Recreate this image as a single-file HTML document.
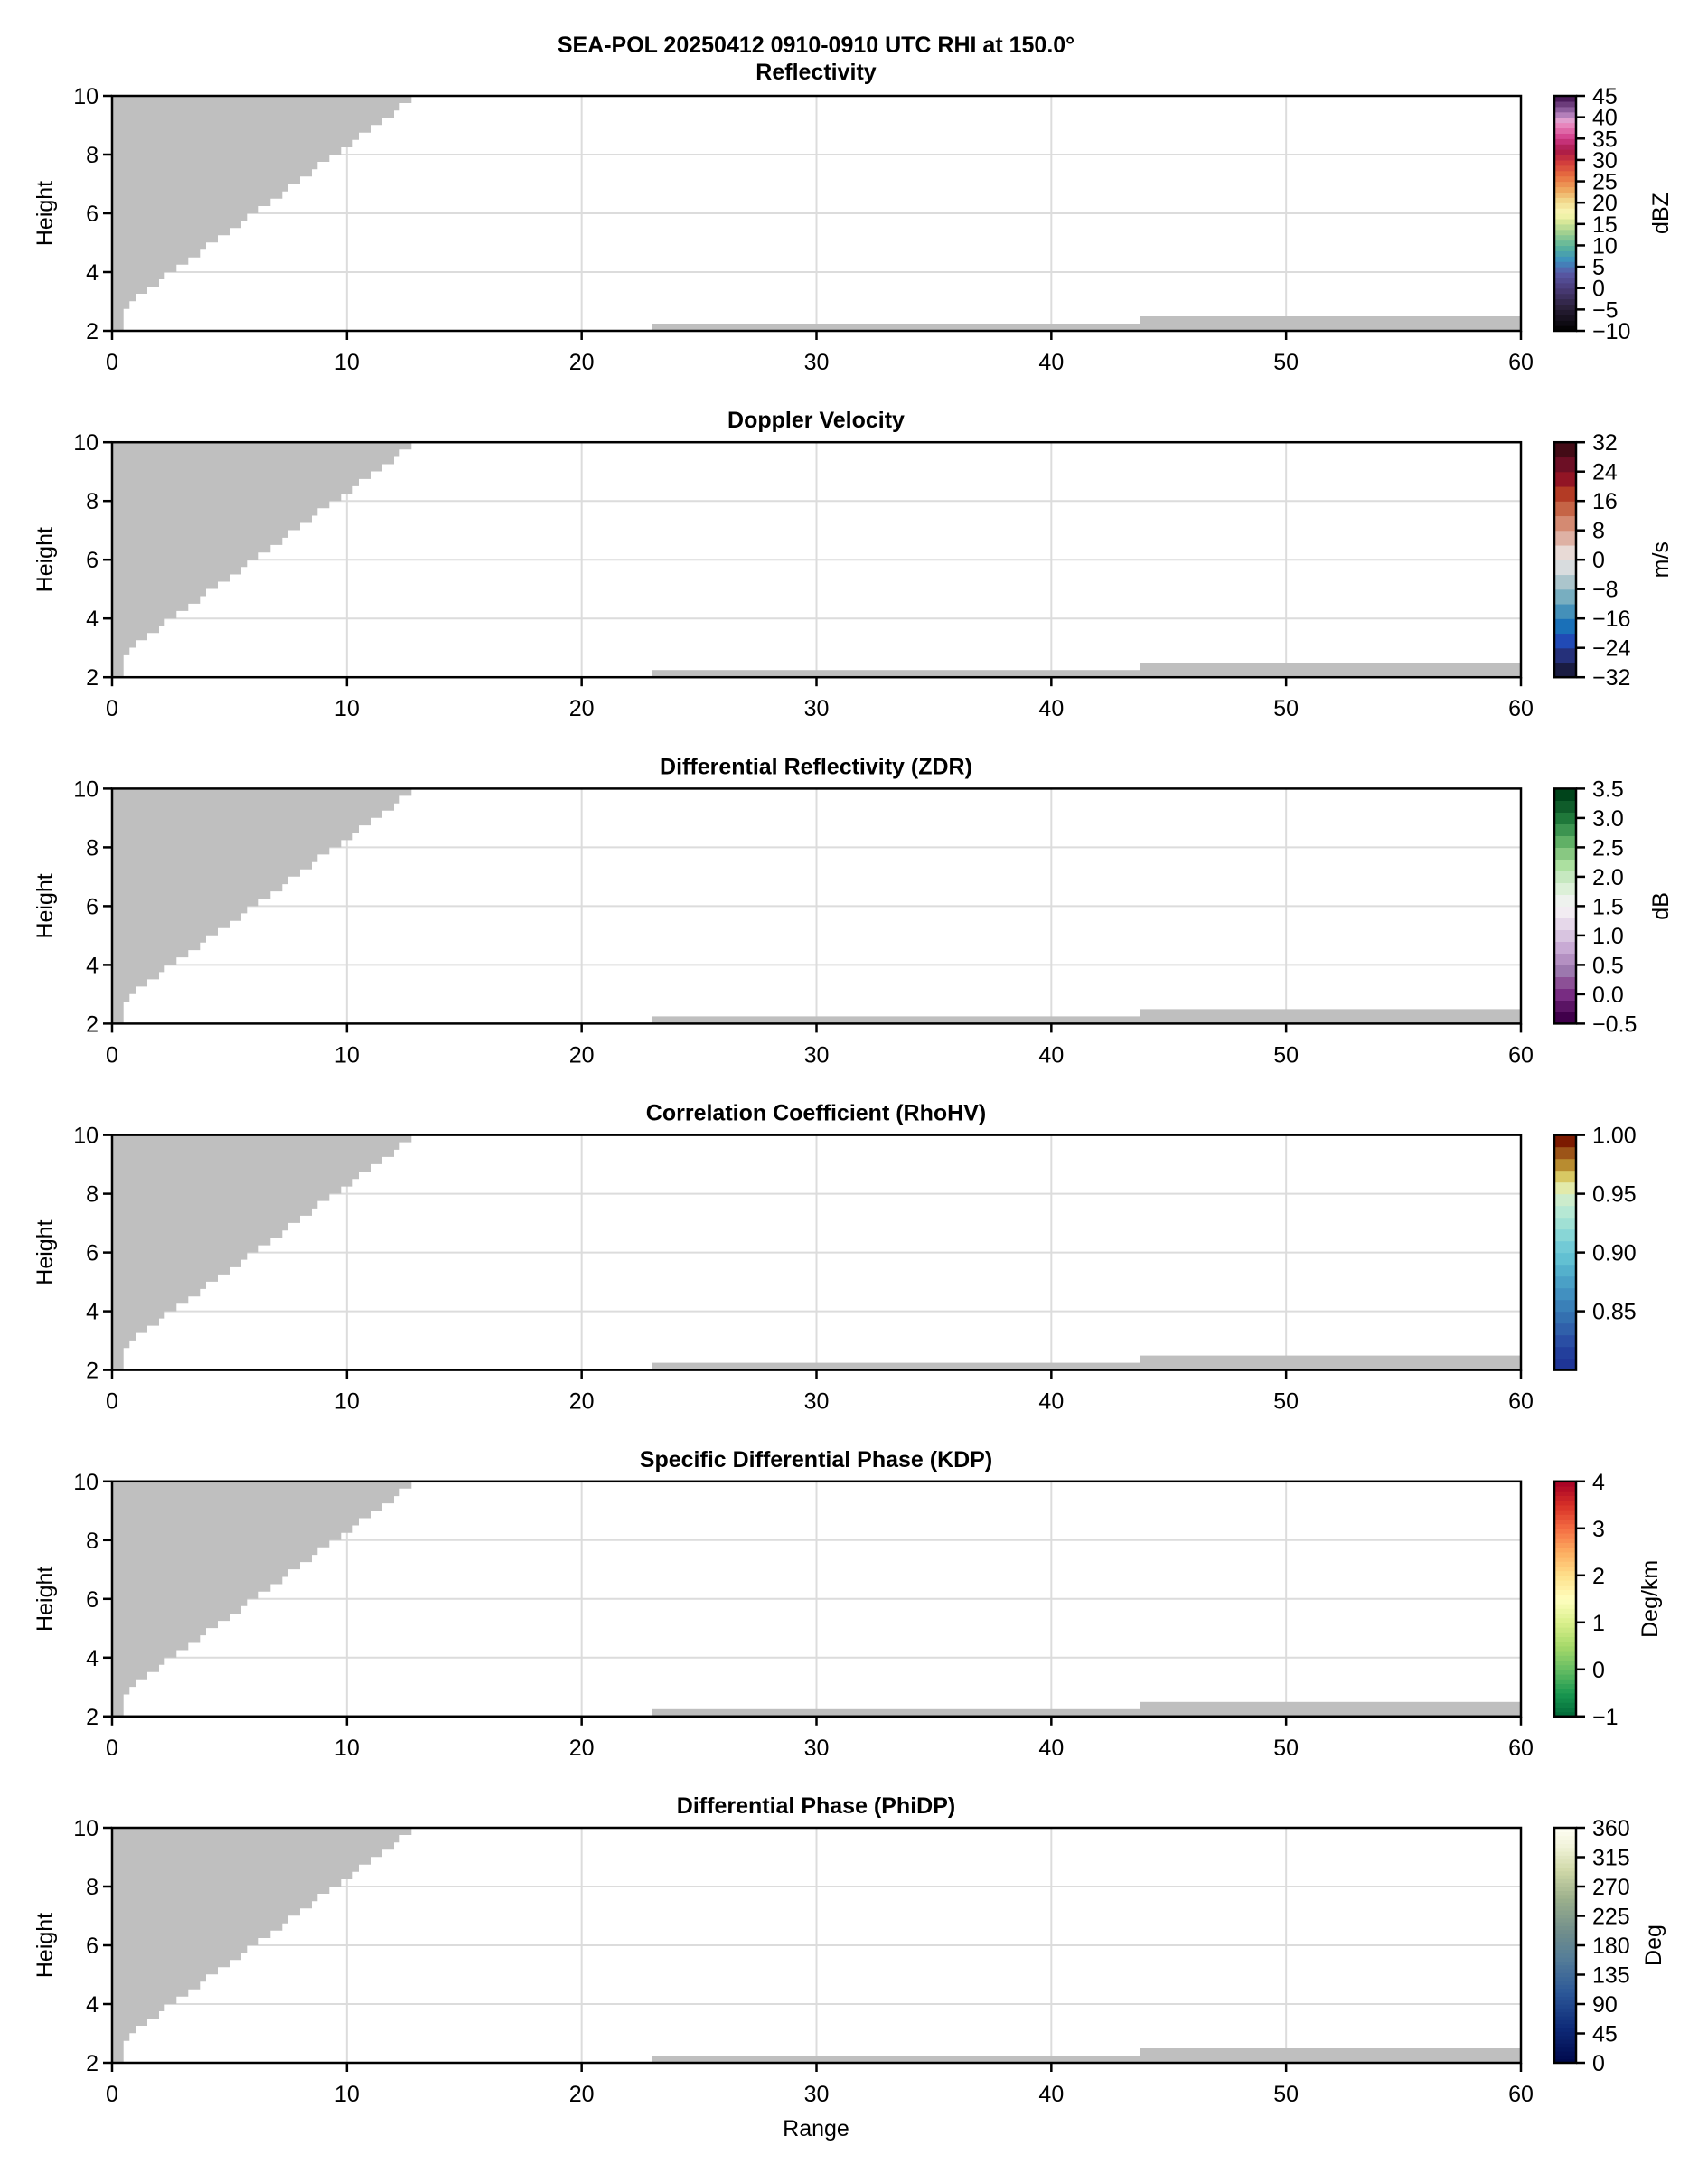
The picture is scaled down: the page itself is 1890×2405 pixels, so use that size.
<!DOCTYPE html>
<html><head><meta charset="utf-8"><style>
html,body{margin:0;padding:0;background:#fff;}
svg text{font-family:"Liberation Sans",sans-serif;fill:#000;}
</style></head><body>
<svg id="s" xmlns="http://www.w3.org/2000/svg" width="1890" height="2400" viewBox="0 0 1890 2400">
<defs>
<path id="tri" d="M0,0 L0,260 H12.7 V235.7 H19.3 V227.3 H26 V219 H39 V211 H52 V203 H58.3 V195 H71.3 V186.7 H84.3 V178.7 H97.3 V170.3 H104 V162.3 H117 V154.3 H130 V146.3 H143 V138 H149.3 V130 H162.3 V122 H175.3 V113.7 H188.3 V105.7 H195 V97.3 H208 V89.3 H221 V81.3 H227.3 V73 H240.3 V65 H253.3 V57 H266.3 V48.7 H273 V40.7 H286 V32.3 H299 V24.3 H312 V16.3 H318.3 V8 H331.3 V0 Z" fill="#bfbfbf"/>
</defs>
<text x="903" y="58" font-size="25" font-weight="bold" text-anchor="middle">SEA-POL 20250412 0910-0910 UTC RHI at 150.0°</text>
<text x="903" y="2363" font-size="25" text-anchor="middle">Range</text>
</svg>
<script>
var s=document.getElementById('s'),NS='http://www.w3.org/2000/svg';
function el(t,a,txt){var e=document.createElementNS(NS,t);for(var k in a)e.setAttribute(k,a[k]);if(txt!=null)e.textContent=txt;s.appendChild(e);return e;}
var L=124,R=1683,W=R-L,H=260,kx=W/60;
var panels=[
{t:"Reflectivity",u:"dBZ",min:-10,max:45,ticks:[-10,-5,0,5,10,15,20,25,30,35,40,45],n:44,
 c:[[0,'#000000'],[0.1,'#2a2038'],[0.18,'#4a3b78'],[0.25,'#5a5aa8'],[0.3,'#3b8fc0'],[0.36,'#5ab49a'],[0.42,'#a0d090'],[0.48,'#e8ee9c'],[0.5,'#f8f8b8'],[0.55,'#f2dc90'],[0.6,'#eeaa60'],[0.66,'#e87040'],[0.72,'#d03a3c'],[0.77,'#a81848'],[0.82,'#d03a88'],[0.87,'#e880b8'],[0.9,'#e0a0d0'],[0.93,'#a070b0'],[1,'#3a0a48']]},
{t:"Doppler Velocity",u:"m/s",min:-32,max:32,ticks:[-32,-24,-16,-8,0,8,16,24,32],
 bins:['#1a1c42','#25307a','#214ab5','#1a70b8','#4490b9','#78aec0','#abc5cc','#d8dcde','#e8dad6','#deb1a4','#d48a72','#c56446','#b33b25','#921525','#6c0f25','#430b16']},
{t:"Differential Reflectivity (ZDR)",u:"dB",min:-0.5,max:3.5,ticks:[-0.5,0,0.5,1,1.5,2,2.5,3,3.5],dec:1,
 bins:['#40004b','#5a1464','#782c82','#8c5096','#9c78ae','#b490c2','#c8aad4','#d8c4e0','#e6d8ea','#f2ecf2','#eef2ee','#dcf0d8','#c6e8c0','#ace0a0','#88c882','#60b066','#3c9450','#1f783a','#0f5c2a','#00441b']},
{t:"Correlation Coefficient (RhoHV)",u:"",min:0.8,max:1.0,ticks:[0.85,0.9,0.95,1.0],dec:2,
 bins:['#1f3596','#233f9c','#2a4ea4','#3060aa','#3470b0','#3a80b8','#4290c0','#4aa0c6','#54b0cc','#62c0d2','#72cad6','#88d6d6','#a0e0d4','#b6e8d4','#cceccc','#e2eaaa','#d8c864','#b88c30','#9c5418','#7c1a00']},
{t:"Specific Differential Phase (KDP)",u:"Deg/km",min:-1,max:4,ticks:[-1,0,1,2,3,4],n:50,
 c:[[0,'#006837'],[0.1,'#1a9850'],[0.2,'#66bd63'],[0.3,'#a6d96a'],[0.4,'#d9ef8b'],[0.5,'#ffffbf'],[0.6,'#fee08b'],[0.7,'#fdae61'],[0.8,'#f46d43'],[0.9,'#d73027'],[1,'#a50026']]},
{t:"Differential Phase (PhiDP)",u:"Deg",min:0,max:360,ticks:[0,45,90,135,180,225,270,315,360],n:60,
 c:[[0,'#00084a'],[0.15,'#0e2a78'],[0.3,'#2c5898'],[0.45,'#567e98'],[0.55,'#6e8c8c'],[0.7,'#9cb08c'],[0.82,'#cfd8a8'],[0.92,'#f0f2d8'],[1,'#fefef4']]}
];
function hex(h){return [parseInt(h.substr(1,2),16),parseInt(h.substr(3,2),16),parseInt(h.substr(5,2),16)];}
function interp(c,t){for(var i=1;i<c.length;i++){if(t<=c[i][0]){var a=c[i-1],b=c[i],f=(t-a[0])/(b[0]-a[0]||1),x=hex(a[1]),y=hex(b[1]);return 'rgb('+[0,1,2].map(function(j){return Math.round(x[j]+(y[j]-x[j])*f)}).join(',')+')';}}return c[c.length-1][1];}
panels.forEach(function(p,i){
 var T=106+i*383.2,B=T+H;
 el('text',{x:903,y:(i==0?T-18:T-16),'font-size':25,'font-weight':'bold','text-anchor':'middle'},p.t);
 for(var v=10;v<60;v+=10) el('line',{x1:L+v*kx,x2:L+v*kx,y1:T,y2:B,stroke:'#dcdcdc','stroke-width':2});
 for(var h=4;h<10;h+=2){var y=B-(h-2)*H/8;el('line',{x1:L,x2:R,y1:y,y2:y,stroke:'#dcdcdc','stroke-width':2});}
 el('use',{href:'#tri',x:L,y:T});
 el('rect',{x:722,y:B-8,width:539,height:8,fill:'#bfbfbf'});
 el('rect',{x:1261,y:B-16,width:R-1261,height:16,fill:'#bfbfbf'});
 el('rect',{x:L,y:T,width:W,height:H,fill:'none',stroke:'#000','stroke-width':2.5});
 for(var v=0;v<=60;v+=10){var x=L+v*kx;el('line',{x1:x,x2:x,y1:B,y2:B+10,stroke:'#000','stroke-width':2.5});
  el('text',{x:x,y:B+43,'font-size':25,'text-anchor':'middle'},String(v));}
 for(var h=2;h<=10;h+=2){var y=B-(h-2)*H/8;el('line',{x1:L-10,x2:L,y1:y,y2:y,stroke:'#000','stroke-width':2.5});
  el('text',{x:L-15,y:y+9,'font-size':25,'text-anchor':'end'},String(h));}
 el('text',{x:58,y:T+H/2,'font-size':25,'text-anchor':'middle',transform:'rotate(-90 58 '+(T+H/2)+')'},'Height');
 var cx=1720,cw=24;
 if(p.bins){var n=p.bins.length;p.bins.forEach(function(c,k){el('rect',{x:cx,y:B-(k+1)*H/n,width:cw,height:H/n+0.6,fill:c});});}
 else{var n=p.n;for(var k=0;k<n;k++)el('rect',{x:cx,y:B-(k+1)*H/n,width:cw,height:H/n+0.6,fill:interp(p.c,(k+0.5)/n)});}
 el('rect',{x:cx,y:T,width:cw,height:H,fill:'none',stroke:'#000','stroke-width':2.5});
 p.ticks.forEach(function(v){var y=B-(v-p.min)/(p.max-p.min)*H;
  el('line',{x1:cx+cw,x2:cx+cw+10,y1:y,y2:y,stroke:'#000','stroke-width':2.5});
  var lab=p.dec?v.toFixed(p.dec):String(v);lab=lab.replace('-','\u2212');
  el('text',{x:1762,y:y+9,'font-size':25},lab);});
 if(p.u){var ux=(p.u=='Deg/km')?1834:(p.u=='Deg'?1838:1846);el('text',{x:ux,y:T+H/2,'font-size':25,'text-anchor':'middle',transform:'rotate(-90 '+ux+' '+(T+H/2)+')'},p.u);}
});
</script>
</body></html>
